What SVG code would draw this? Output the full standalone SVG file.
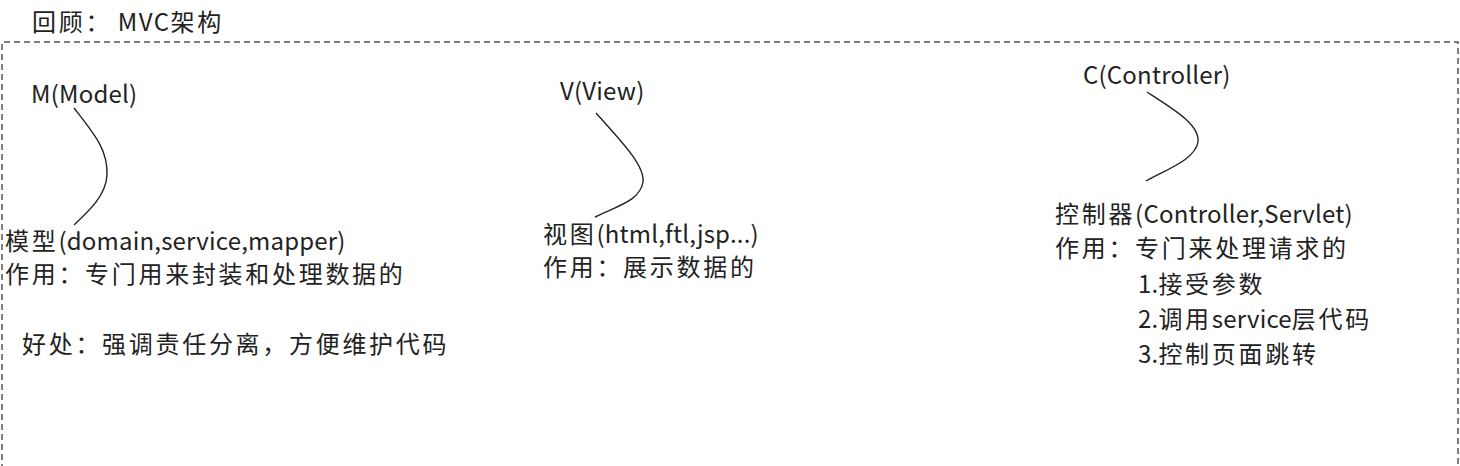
<svg xmlns="http://www.w3.org/2000/svg" width="1460" height="466" viewBox="0 0 1460 466">
<style>
text{font-family:"Noto Sans CJK SC","Noto Sans",sans-serif;font-size:24px;fill:#222;letter-spacing:0.2px;}
.c{letter-spacing:2.7px;}
.frame{fill:none;stroke:#555;stroke-width:1.5;stroke-dasharray:6,4;}
.conn{fill:none;stroke:#222;stroke-width:1.4;}
</style>
<rect width="1460" height="466" fill="#fff"/>
<text x="32" y="31"><tspan class="c">回顾：</tspan> <tspan letter-spacing="1.5">MVC</tspan><tspan class="c">架构</tspan></text>
<path class="frame" d="M2,470 V42 H1458 V470"/>
<g id="connectors">
<path class="conn" d="M74,108 C95,135 108,150 107,175 C106,195 90,210 74,225"/>
<path class="conn" d="M596,113 C620,140 645,165 643,182 C640,200 620,205 595,217"/>
<path class="conn" d="M1147,92 C1175,110 1200,125 1198,142 C1195,160 1165,170 1146,181"/>
</g>
<g id="model">
<text x="31" y="103">M(Model)</text>
<text x="5" y="250"><tspan class="c">模型</tspan>(domain,service,mapper)</text>
<text x="5" y="283" class="c">作用：专门用来封装和处理数据的</text>
<text x="22" y="353" class="c">好处：强调责任分离，方便维护代码</text>
</g>
<g id="view">
<text x="560" y="100">V(View)</text>
<text x="543" y="243"><tspan class="c">视图</tspan>(html,ftl,jsp...)</text>
<text x="543" y="276" class="c">作用：展示数据的</text>
</g>
<g id="controller">
<text x="1083" y="84">C(Controller)</text>
<text x="1055" y="223"><tspan class="c">控制器</tspan>(Controller,Servlet)</text>
<text x="1055" y="257" class="c">作用：专门来处理请求的</text>
<text x="1138" y="293">1.<tspan class="c">接受参数</tspan></text>
<text x="1138" y="328">2.<tspan class="c">调用</tspan>service<tspan class="c">层代码</tspan></text>
<text x="1138" y="363">3.<tspan class="c">控制页面跳转</tspan></text>
</g>
</svg>
